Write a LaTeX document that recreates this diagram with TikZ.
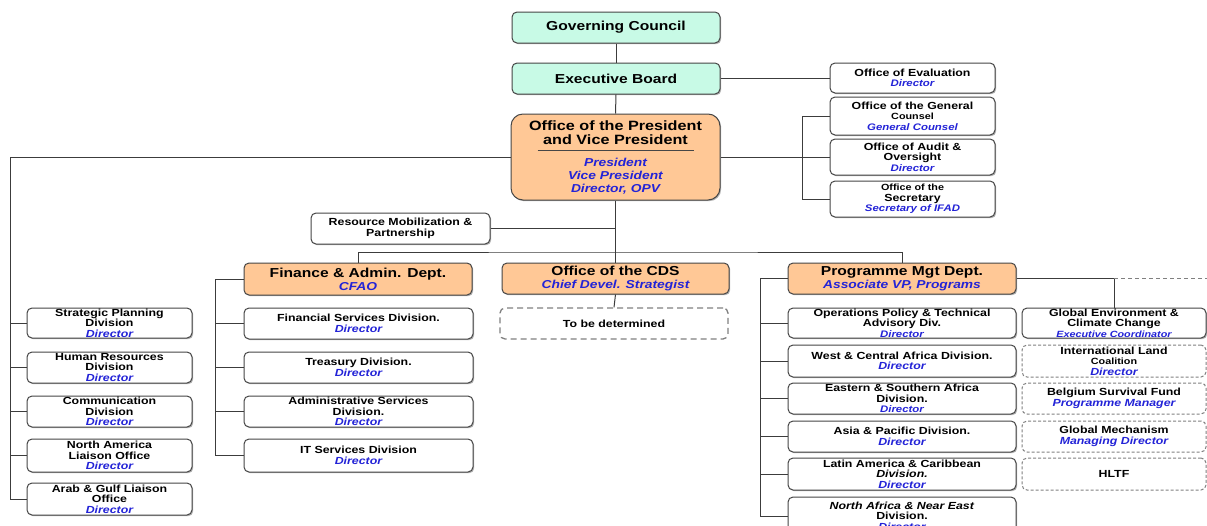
\documentclass[tikz,border=0pt]{standalone}
\usepackage{fontspec}
\setmainfont{Liberation Sans}[FakeStretch=1.2]
\usetikzlibrary{shadows}
\definecolor{mintc}{RGB}{200,250,230}
\definecolor{orangec}{RGB}{255,200,150}
\definecolor{dirblue}{RGB}{35,35,215}
\definecolor{edgec}{RGB}{70,70,70}
\definecolor{linkc}{RGB}{60,60,60}
\newcommand\dirl[1]{{\color{dirblue}\bfseries\itshape #1}}
\newcommand\fs[1]{\fontsize{#1}{#1}\selectfont}
\tikzset{
  base/.style={rounded corners=5pt, align=center, inner xsep=2pt, inner ysep=0pt, line width=1pt},
  shd/.style={drop shadow={shadow xshift=1.2pt, shadow yshift=-1.2pt, opacity=0.3, fill=black}},
  box/.style={base, draw=edgec, fill=white, shd, font=\fontsize{10.3}{10.5}\selectfont\bfseries},
  dbox/.style={base, draw=gray, dash pattern=on 3pt off 2pt, fill=white, font=\fontsize{10.3}{10.5}\selectfont\bfseries},
  tbdbox/.style={base, draw=gray, line width=1.3pt, dash pattern=on 6pt off 4pt, fill=white, font=\fontsize{10.3}{10.5}\selectfont\bfseries},
  mint/.style={base, draw=edgec, fill=mintc, shd, font=\fontsize{13}{15}\selectfont\bfseries},
  dept/.style={base, draw=edgec, fill=orangec, shd, font=\fontsize{13}{13}\selectfont\bfseries},
  wh/.style 2 args={minimum width=#1pt, minimum height=#2pt},
  link/.style={draw=linkc, line width=1pt},
}
\begin{document}
\begin{tikzpicture}[x=1pt,y=-1pt]
\useasboundingbox (0,0) rectangle (1207,525);
\fill[white] (0,0) rectangle (1207,525);
\clip (0,0) rectangle (1207,525);

\coordinate (lx) at (10,0);
\coordinate (fx) at (215,0);
\coordinate (px) at (760,0);
\coordinate (bx) at (802,0);
\coordinate (bus) at (616,252);
\coordinate (edge) at (1207,278.5);

% top
\node[mint, wh={208}{31}] (gc) at (616,27.5) {Governing Council};
\node[mint, wh={208}{31}] (eb) at (616,78.5) {Executive Board};
\node[dept, wh={209}{86}, rounded corners=12pt, font=\fontsize{13.5}{14}\selectfont\bfseries] (opv) at (615.5,157)
  {Office of the President\\ and Vice President\\[-4pt]
   {\color{edgec}\rule[3pt]{156pt}{0.7pt}}\\[-2pt]
   \dirl{\fs{11.5}President}\\[-1pt] \dirl{\fs{11.5}Vice President}\\[-1pt] \dirl{\fs{11.5}Director, OPV}};

% right offices
\node[box, wh={165}{30}] (eval) at (912.5,78) {Office of Evaluation\\ \dirl{\fs{9.5}Director}};
\node[box, wh={165}{38}] (counsel) at (912.5,116) {Office of the General\\ {\fs{9}Counsel}\\ \dirl{\fs{9.5}General Counsel}};
\node[box, wh={165}{36}] (audit) at (912.5,157) {Office of Audit \&\\ Oversight\\ \dirl{\fs{9.5}Director}};
\node[box, wh={165}{36}] (secr) at (912.5,199) {{\fs{9}Office of the}\\ Secretary\\ \dirl{\fs{9.5}Secretary of IFAD}};

% resource mobilization
\node[box, wh={179}{31}] (rm) at (400.5,228.5) {Resource Mobilization \&\\ Partnership};

% departments
\node[dept, wh={228}{32}] (fin) at (358,279) {Finance \& Admin. Dept.\\ \dirl{\fs{11.5}CFAO}};
\node[dept, wh={227}{31}] (cds) at (615.5,278.5) {Office of the CDS\\ \dirl{\fs{11.5}Chief Devel. Strategist}};
\node[dept, wh={228}{31}] (pmd) at (902,278.5) {Programme Mgt Dept.\\ \dirl{\fs{11.5}Associate VP, Programs}};
\node[tbdbox, wh={228}{31}] (tbd) at (614,323.5) {To be determined};

% left column
\node[box, wh={165}{30}] (strat) at (109.5,323) {Strategic Planning\\ Division\\ \dirl{Director}};
\node[box, wh={165}{31}] (hr) at (109.5,367.5) {Human Resources\\ Division\\ \dirl{Director}};
\node[box, wh={165}{31}] (comm) at (109.5,411.5) {Communication\\ Division\\ \dirl{Director}};
\node[box, wh={165}{33}] (na) at (109.5,455.5) {North America\\ Liaison Office\\ \dirl{Director}};
\node[box, wh={165}{32}] (arab) at (109.5,499) {Arab \& Gulf Liaison\\ Office\\ \dirl{Director}};

% finance divisions
\node[box, wh={229}{31}] (fsd) at (358.5,323.5) {Financial Services Division.\\ \dirl{Director}};
\node[box, wh={229}{31}] (tre) at (358.5,367.5) {Treasury Division.\\ \dirl{Director}};
\node[box, wh={229}{31}] (adm) at (358.5,411.5) {Administrative Services\\ Division.\\ \dirl{Director}};
\node[box, wh={229}{33}] (it) at (358.5,455.5) {IT Services Division\\ \dirl{Director}};

% programme divisions
\node[box, wh={228}{30}] (opta) at (902,323) {Operations Policy \& Technical\\ Advisory Div.\\ \dirl{\fs{9.5}Director}};
\node[box, wh={228}{32}] (wca) at (902,361) {West \& Central Africa Division.\\ \dirl{Director}};
\node[box, wh={228}{31}] (esa) at (902,398.5) {Eastern \& Southern Africa\\ Division.\\ \dirl{\fs{9.5}Director}};
\node[box, wh={228}{31}] (ap) at (902,436.5) {Asia \& Pacific Division.\\ \dirl{Director}};
\node[box, wh={228}{32}] (lac) at (902,474) {Latin America \& Caribbean\\ \textit{Division.}\\ \dirl{Director}};
\node[box, wh={228}{38}] (nane) at (902,516) {\textit{North Africa \& Near East}\\ Division.\\ \dirl{Director}};

% right column
\node[box, wh={184}{30}] (gef) at (1114,323) {Global Environment \&\\ Climate Change\\ \dirl{\fs{9}Executive Coordinator}};
\node[dbox, wh={184}{32}] (ilc) at (1114,361) {International Land\\ {\fs{9}Coalition}\\ \dirl{Director}};
\node[dbox, wh={184}{31}] (bsf) at (1114,398.5) {Belgium Survival Fund\\ \dirl{Programme Manager}};
\node[dbox, wh={184}{31}] (gm) at (1114,436.5) {Global Mechanism\\ \dirl{Managing Director}};
\node[dbox, wh={184}{32}] (hltf) at (1114,474) {HLTF};

% connectors
\draw[link] (gc.south) -- (eb.north);
\draw[link] (eb.south) -- (opv.north);
\draw[link] (eb.east) -- (eb.east -| eval.west);
\draw[link] (opv.east) -- (opv.east -| audit.west);
\draw[link] (counsel.west) -- (counsel.west -| bx) -- (secr.west -| bx) -- (secr.west);
\draw[link] (opv.west) -- (opv.west -| lx) -- (arab.west -| lx) -- (arab.west);
\foreach \n in {strat,hr,comm,na} \draw[link] (\n.west -| lx) -- (\n.west);
\draw[link] (opv.south) -- (cds.north);
\draw[link] (rm.east) -- (rm.east -| opv.south);
\draw[link] (fin.north) |- (bus) -| (pmd.north);
\draw[link] (fin.west) -- (fin.west -| fx) -- (it.west -| fx) -- (it.west);
\foreach \n in {fsd,tre,adm} \draw[link] (\n.west -| fx) -- (\n.west);
\draw[link] (cds.south) -- (tbd.north);
\draw[link] (pmd.west) -- (pmd.west -| px) -- (nane.west -| px) -- (nane.west);
\foreach \n in {opta,wca,esa,ap,lac} \draw[link] (\n.west -| px) -- (\n.west);
\draw[link] (pmd.east) -| (gef.north);
\draw[link, draw=gray, dash pattern=on 4pt off 3pt] (gef.north |- pmd.east) -- (edge);
\end{tikzpicture}
\end{document}
